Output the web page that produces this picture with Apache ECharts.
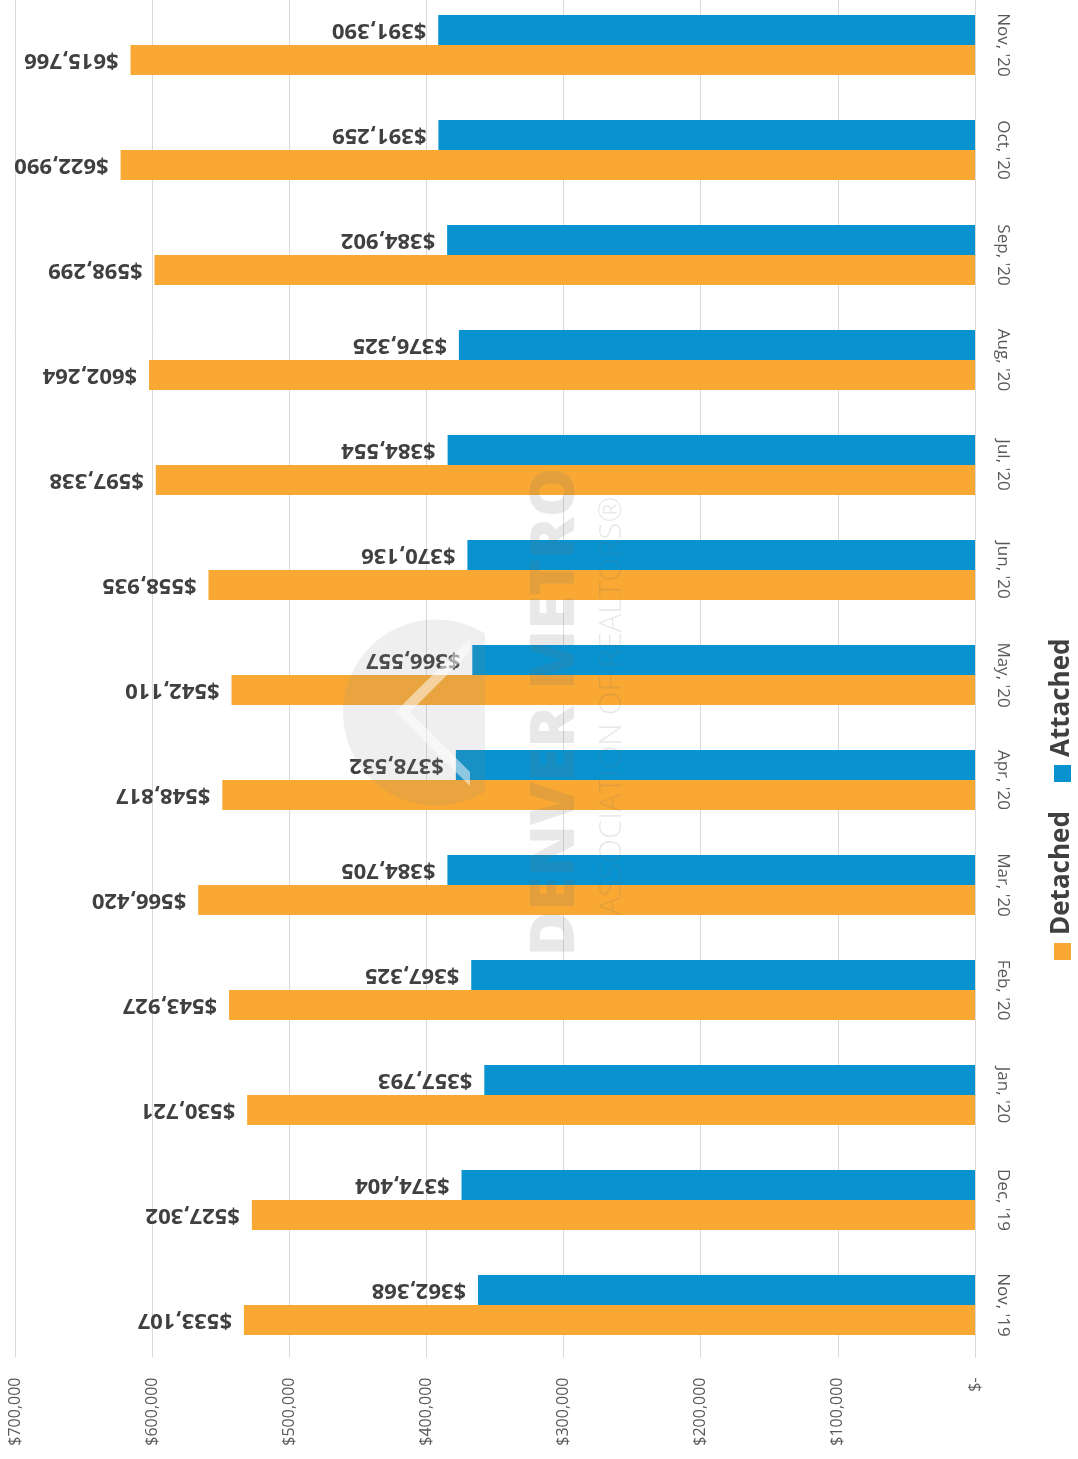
<!DOCTYPE html>
<html>
<head>
<meta charset="utf-8">
<script src="https://cdn.jsdelivr.net/npm/echarts@6/dist/echarts.min.js"></script>
<style>
html,body{margin:0;padding:0;background:#fff;overflow:hidden;}
body{position:relative;width:1078px;height:1459px;}
#chart{position:absolute;left:0;top:-8px;width:1078px;height:1467px;}
</style>
</head>
<body>
<div id="chart"></div>
<script>
const categories = ["Nov, '19","Dec, '19","Jan, '20","Feb, '20","Mar, '20","Apr, '20","May, '20","Jun, '20","Jul, '20","Aug, '20","Sep, '20","Oct, '20","Nov, '20"];
const detached = [533107,527302,530721,543927,566420,548817,542110,558935,597338,602264,598299,622990,615766];
const attached = [362368,374404,357793,367325,384705,378532,366557,370136,384554,376325,384902,391259,391390];
const valueTicks = [0,100000,200000,300000,400000,500000,600000,700000];

const ORANGE = '#F9A833';
const BLUE = '#0892CF';
const FONT = '"Open Sans", "Noto Sans", sans-serif';
const OFF = 8; // container is shifted up by 8px

function money(v){
  if (v === 0) return '$-';
  return '$' + v.toLocaleString('en-US');
}

// watermark logo outline (circle segment, flat on the right)
const logoPts = [];
(function(){
  const cx = 436, cy = 712.5, r = 93;
  const a0 = Math.acos((485 - cx) / r);
  for (let i = 0; i <= 60; i++) {
    const a = a0 + (2 * Math.PI - 2 * a0) * i / 60;
    logoPts.push([cx + r * Math.cos(a), cy - r * Math.sin(a)]);
  }
})();

const chart = echarts.init(document.getElementById('chart'));
const labelCfg = {
  show: true,
  position: 'left',
  distance: 12,
  rotate: 180,
  align: 'left',
  verticalAlign: 'middle',
  color: '#404040',
  fontFamily: FONT,
  fontWeight: 'bold',
  fontSize: 22,
  formatter: p => money(p.value)
};
chart.setOption({
  animation: false,
  backgroundColor: '#fff',
  grid: {left: 15, right: 103, top: 0.5, bottom: 101.5, containLabel: false},
  xAxis: {
    type: 'value',
    inverse: true,
    min: valueTicks[0],
    max: valueTicks[valueTicks.length-1],
    interval: 100000,
    position: 'bottom',
    axisLine: {show: false},
    axisTick: {show: false},
    splitLine: {show: true, lineStyle: {color: '#D9D9D9', width: 1}},
    axisLabel: {
      rotate: 90,
      margin: 20,
      color: '#595959',
      fontFamily: FONT,
      fontSize: 16,
      formatter: v => money(v)
    }
  },
  yAxis: {
    type: 'category',
    data: categories,
    position: 'right',
    axisLine: {show: true, lineStyle: {color: '#D9D9D9'}},
    axisTick: {show: false},
    axisLabel: {
      rotate: -90,
      margin: 19,
      color: '#595959',
      fontFamily: FONT,
      fontSize: 17
    }
  },
  series: [
    {name: 'Attached', type: 'bar', data: attached, barWidth: 30, barGap: '0%',
     itemStyle: {color: BLUE}, label: labelCfg},
    {name: 'Detached', type: 'bar', data: detached, barWidth: 30, barGap: '0%',
     itemStyle: {color: ORANGE}, label: labelCfg}
  ],
  graphic: [{
    type: 'group', x: 0, y: OFF, z: 100,
    children: [
      // watermark
      {type: 'polygon', z: 100, silent: true,
       shape: {points: logoPts},
       style: {fill: 'rgba(140,140,140,0.14)'}},
      {type: 'polygon', z: 101, silent: true,
       shape: {points: [[395,712],[470,638],[470,652],[410,712],[470,772],[470,786]]},
       style: {fill: 'rgba(255,255,255,0.5)'}},
      {type: 'text', x: 556, y: 712, rotation: Math.PI/2, z: 100, silent: true,
       style: {text: 'DENVER METRO', fill: 'rgba(110,110,110,0.16)', font: '800 62px ' + FONT, align: 'center', verticalAlign: 'middle'}},
      {type: 'text', x: 612, y: 706, rotation: Math.PI/2, z: 100, silent: true,
       style: {text: 'ASSOCIATION OF REALTORS®', fill: 'rgba(110,110,110,0.16)', font: '300 31px ' + FONT, align: 'center', verticalAlign: 'middle'}},
      // legend
      {type: 'rect', shape: {x: 1054, y: 943, width: 17, height: 17}, style: {fill: ORANGE}},
      {type: 'text', x: 1062, y: 935, rotation: Math.PI/2,
       style: {text: 'Detached', fill: '#404040', font: 'bold 26px ' + FONT, align: 'left', verticalAlign: 'middle'}},
      {type: 'rect', shape: {x: 1054, y: 765, width: 17, height: 17}, style: {fill: BLUE}},
      {type: 'text', x: 1062, y: 757, rotation: Math.PI/2,
       style: {text: 'Attached', fill: '#404040', font: 'bold 26px ' + FONT, align: 'left', verticalAlign: 'middle'}}
    ]
  }]
});
</script>
</body>
</html>
